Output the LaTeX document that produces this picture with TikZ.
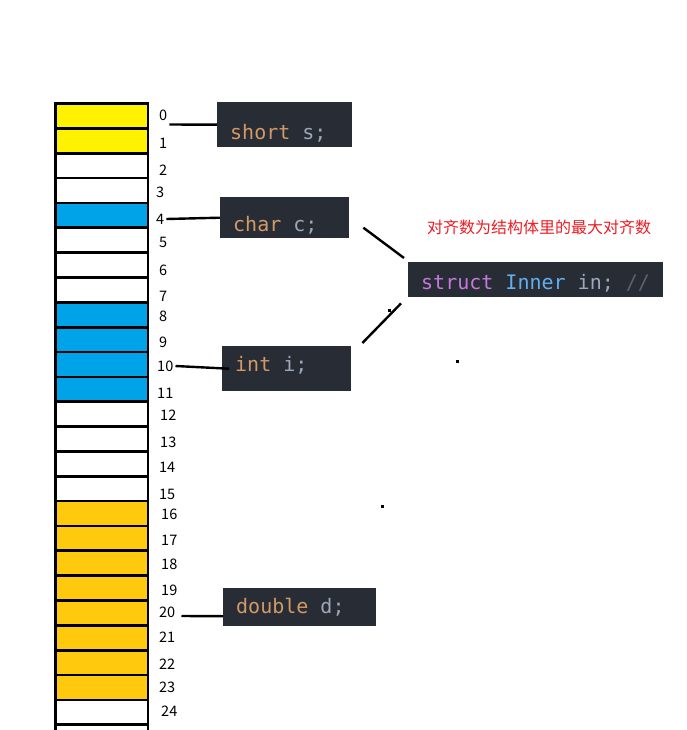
\documentclass[tikz,border=0pt]{standalone}
\usepackage{fontspec}
\setmainfont{Noto Sans CJK SC}
\setmonofont{DejaVu Sans Mono}
\usepackage{xcolor}
\usetikzlibrary{positioning}

\definecolor{ylw}{HTML}{FFF200}
\definecolor{blu}{HTML}{00A2E8}
\definecolor{gld}{HTML}{FFC90E}
\definecolor{codebg}{HTML}{282C34}
\definecolor{kw}{HTML}{D19A66}
\definecolor{var}{HTML}{9DA8BA}
\definecolor{purp}{HTML}{C678DD}
\definecolor{typ}{HTML}{61AFEF}
\definecolor{cmt}{HTML}{5C6370}
\definecolor{note}{HTML}{ED1C24}

% one monospaced blank
\newcommand{\monogap}{\hphantom{0}}

\begin{document}
\begin{tikzpicture}[
    x=1pt, y=-1pt,
    cell/.style={rectangle, draw, line width=2.7pt, minimum width=92.7pt, minimum height=24.85pt, inner sep=0pt, outer sep=0pt},
    idx/.style={anchor=west, inner sep=2pt, font=\fontsize{14.5}{16}\selectfont},
    codebox/.style={rectangle, fill=codebg, anchor=north west, inner xsep=13pt, inner ysep=0pt, align=left, font=\fontsize{20}{24}\selectfont\ttfamily},
    link/.style={line width=2.4pt}
]
\useasboundingbox (0,0) rectangle (686,730);
\clip (0,0) rectangle (686,730);

% memory cells
\foreach \i/\col in {0/ylw,1/ylw,2/white,3/white,4/blu,5/white,6/white,7/white,
    8/blu,9/blu,10/blu,11/blu,12/white,13/white,14/white,15/white,
    16/gld,17/gld,18/gld,19/gld,20/gld,21/gld,22/gld,23/gld,24/white,25/white}
  \node[cell, fill=\col] (cell\i) at (101.65, {115.925+24.85*\i}) {};

% offsets
\foreach \i/\x/\y in {0/157/115.5, 1/157/143, 2/157/170, 3/154/192, 4/154/219,
    5/157/242, 6/157/270, 7/157/296, 8/157/316, 9/157/342, 10/155/366, 11/155/393,
    12/158/415, 13/158/442, 14/157/467, 15/157/494, 16/159/514, 17/159/540,
    18/159/564, 19/159/590, 20/157/612, 21/157/637, 22/157/664, 23/157/687, 24/159/711}
  \node[idx] (num\i) at (\x,\y) {\i};

% members
\node[codebox, text width=109pt, text height=37pt, text depth=8pt] (short) at (217,102)
  {\textcolor{kw}{short}\monogap\textcolor{var}{s;}};
\node[codebox, text width=103pt, text height=34pt, text depth=7pt] (char) at (220,197)
  {\textcolor{kw}{char}\monogap\textcolor{var}{c;}};
\node[codebox, text width=103pt, text height=25pt, text depth=20pt] (int) at (222,346)
  {\textcolor{kw}{int}\monogap\textcolor{var}{i;}};
\node[codebox, text width=127pt, text height=25pt, text depth=13pt] (double) at (223,588)
  {\textcolor{kw}{double}\monogap\textcolor{var}{d;}};
\node[codebox, text width=229pt, text height=27pt, text depth=8pt] (inner) at (408,262)
  {\textcolor{purp}{struct}\monogap\textcolor{typ}{Inner}\monogap\textcolor{var}{in;}\monogap\textcolor{cmt}{//}};

\node[text=note, font=\fontsize{16}{18}\selectfont] (rule) at (539,227) {对齐数为结构体里的最大对齐数};

% connectors
\draw[link] ([yshift=-9pt]num0.east) -- (short.west);
\draw[link] (num4.east) -- (char.west);
\draw[link] (num10.east) -- ([xshift=7pt]int.west);
\draw[link] ([shift={(4pt,-4pt)}]num20.east) -- ([yshift=-9pt]double.west);
\draw[link] ([shift={(14pt,-10pt)}]char.east) -- ([shift={(-4pt,4pt)}]inner.north west);
\draw[link] ([shift={(11pt,3pt)}]int.north east) -- ([shift={(-7pt,-6pt)}]inner.south west);

% stray marks
\fill (455.5,359.5) rectangle ++(3,3);
\fill (381,504.5) rectangle ++(3,3);
\fill (388,308.5) rectangle ++(3,3);

\end{tikzpicture}
\end{document}
